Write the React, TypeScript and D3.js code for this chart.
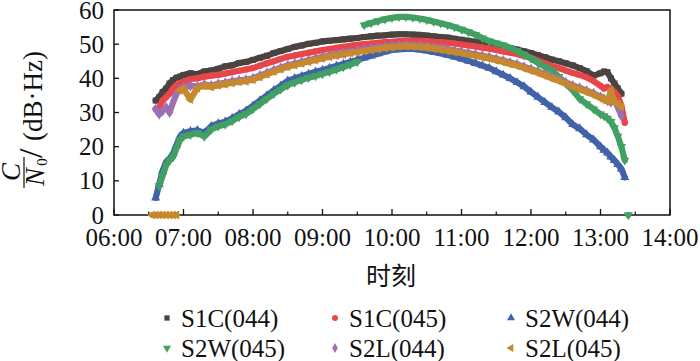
import React from 'react';
import * as d3 from 'd3';

// time of day in decimal hours (06:33 .. 13:24)
const times = [
  6.55, 6.6, 6.65, 6.7, 6.75, 6.8, 6.85, 6.9, 6.95, 7.0,
  7.1, 7.2, 7.3, 7.4, 7.5, 7.6, 7.7, 7.8, 7.9, 8.0,
  8.1, 8.2, 8.3, 8.4, 8.5, 8.6, 8.7, 8.8, 8.9, 9.0,
  9.1, 9.2, 9.3, 9.4, 9.5, 9.6, 9.7, 9.8, 9.9, 10.0,
  10.1, 10.2, 10.3, 10.4, 10.5, 10.6, 10.7, 10.8, 10.9, 11.0,
  11.1, 11.2, 11.3, 11.4, 11.5, 11.6, 11.7, 11.8, 11.9, 12.0,
  12.1, 12.2, 12.3, 12.4, 12.5, 12.6, 12.7, 12.8, 12.9,
  13.0, 13.05, 13.1, 13.15, 13.2, 13.25, 13.3, 13.35, 13.4,
];

// C/N0 in dB-Hz
const s1c044 = [
  null, 33.5, 34.5, 36, 37, 38.5, 39.5, 40.2, 40.5, 41,
  41.5, 41.2, 42, 42.3, 42.8, 43.5, 43.8, 44.5, 44.8, 45.4,
  46, 46.6, 47.4, 48, 48.6, 49.2, 49.6, 50.1, 50.4, 50.8,
  51, 51.2, 51.4, 51.6, 51.8, 52.1, 52.3, 52.5, 52.6, 52.8,
  52.9, 52.9, 52.8, 52.7, 52.5, 52.3, 52.1, 51.9, 51.6, 51.3,
  51, 50.7, 50.4, 50, 49.6, 49.2, 48.8, 48.4, 47.9, 47.4,
  46.8, 46.2, 45.5, 45, 44.4, 43.8, 43, 42.1, 40.8,
  41.5, 42, 41.8, 40, 38.5, 37, 35.5, null, null,
];
const s1c045 = [
  null, 31, 31.5, 33.5, 34.5, 35.5, 37, 38, 38.5, 39,
  39.8, 40, 40.5, 40.8, 41, 41.4, 41.8, 42.2, 42.6, 43,
  43.7, 44.4, 45, 45.7, 46.3, 46.7, 47.1, 47.5, 47.9, 48.3,
  48.6, 48.9, 49.2, 49.5, 49.8, 50, 50.2, 50.4, 50.6, 50.7,
  50.9, 51, 51, 51, 50.9, 50.7, 50.6, 50.4, 50.2, 49.9,
  49.6, 49.3, 49, 48.7, 48.3, 47.9, 47.5, 47.1, 46.5, 46,
  45.2, 44.4, 43.6, 43, 42.3, 41.6, 41, 40.3, 39.2,
  37.8, 37, 37.5, 36.8, 36, 34.8, 32, 27, null,
];
const s2w044 = [
  null, 5, 9, 13, 15.5, 16.5, 18, 20.5, 23, 24,
  24.5, 24.8, 24, 26, 26.8, 27.3, 28.3, 29.5, 30.5, 32,
  33.5, 35, 36.5, 37.8, 39.3, 40, 40.6, 41.3, 41.9, 42.4,
  43, 43.6, 44.2, 44.8, 45.4, 46, 46.6, 47.2, 47.8, 48.3,
  48.5, 48.6, 48.6, 48.4, 48.1, 47.7, 47.3, 46.8, 46.3, 45.7,
  45.1, 44.4, 43.7, 43, 42, 41, 40, 38.8, 37.6, 36,
  34.5, 33, 31.5, 30.2, 28.5, 26.5, 25.3, 23.5, 22,
  20, 19, 18.2, 17, 16, 14.8, 13.5, 11, null,
];
const s2w045 = [
  null, null, 8.5, 11.5, 14.5, 16, 17, 19.5, 22, 23,
  23.5, 24, 23, 25, 26, 26.5, 27.5, 28.7, 29.6, 31,
  32.5, 34, 35.5, 36.8, 38, 38.8, 39.5, 40.2, 40.7, 41.3,
  41.9, 42.6, 43.3, 44, 44.8, 55.6, 56.2, 56.8, 57.3, 57.7,
  58, 58, 57.8, 57.5, 57.1, 56.6, 56.1, 55.6, 55, 54.3,
  53.6, 52.8, 51.8, 50.9, 50.3, 49.7, 49, 48, 47, 45.8,
  44.5, 43.4, 42.3, 40.5, 38.5, 36.5, 34, 32.5, 31,
  29.5, 29, 28.3, 27.3, 25.5, 23, 20, 16, 0,
];
const s2l044 = [
  null, 31, 29.5, 30.5, 31.5, 30, 33, 35.5, 36.8, 37.3,
  37.8, 37.6, 38.2, 37.9, 38.4, 38.7, 39.1, 39.4, 39.6, 40,
  40.8, 41.6, 42.4, 43.1, 43.8, 44.3, 44.8, 45.3, 45.8, 46.3,
  46.7, 47.1, 47.4, 47.8, 48.1, 48.4, 48.7, 49, 49.3, 49.5,
  49.7, 49.8, 49.7, 49.6, 49.4, 49.1, 48.8, 48.5, 48.1, 47.8,
  47.4, 47, 46.6, 46.2, 45.7, 45.2, 44.6, 44.1, 43.4, 42.7,
  42, 41.2, 40.4, 39.7, 38.8, 37.9, 37.2, 36.4, 35.6,
  34.6, 34, 33.5, 33, 33.5, 31.5, 29, null, null,
];
const s2l045 = [
  0, 0, 0, 0, 0, 0, 0, 0, 36.5, 37,
  33.8, 37.2, 37.8, 37.5, 38, 38.3, 38.7, 39, 39.2, 39.6,
  40.4, 41.2, 42, 42.7, 43.4, 43.9, 44.4, 44.9, 45.4, 45.9,
  46.3, 46.7, 47, 47.4, 47.7, 48, 48.3, 48.6, 48.9, 49.1,
  49.3, 49.4, 49.3, 49.2, 49, 48.7, 48.4, 48.1, 47.7, 47.4,
  47, 46.6, 46.2, 45.8, 45.3, 44.8, 44.2, 43.7, 43, 42.3,
  41.6, 40.8, 40, 39.3, 38.4, 37.5, 36.8, 36, 35.2,
  34.2, 33.7, 33.2, 36.5, 33, 32.5, 31.6, null, null,
];

const seriesNames = ['S1C(044)', 'S1C(045)', 'S2W(044)', 'S2W(045)', 'S2L(044)', 'S2L(045)'];
const seriesValues = [s1c044, s1c045, s2w044, s2w045, s2l044, s2l045];
const seriesColors = ['#4b4340', '#e8464a', '#4262aa', '#42a062', '#9c70b4', '#c6892e'];
const xTickLabels = ['06:00', '07:00', '08:00', '09:00', '10:00', '11:00', '12:00', '13:00', '14:00'];
const yTicks = [0, 10, 20, 30, 40, 50, 60];

const SERIF = "Liberation Serif";
const txt = { fontFamily: SERIF };

// symbol + rotation for each series marker
const markers: [d3.SymbolType, number][] = [
  [d3.symbolSquare, 0],
  [d3.symbolCircle, 0],
  [d3.symbolTriangle, 0],
  [d3.symbolTriangle, 180],
  [d3.symbolDiamond, 0],
  [d3.symbolTriangle, -90],
];

function splitSegments(vals: (number | null)[]) {
  const segs: [number, number][][] = [];
  let cur: [number, number][] = [];
  vals.forEach((v, i) => {
    if (v == null) {
      if (cur.length) segs.push(cur);
      cur = [];
      return;
    }
    const prev = cur[cur.length - 1];
    if (prev && Math.abs(prev[1] - v) > 8) {
      segs.push(cur);
      cur = [];
    }
    cur.push([times[i], v]);
  });
  if (cur.length) segs.push(cur);
  return segs;
}

export default function App() {
  const left = 114, right = 670, top = 10, bottom = 215;
  const x = d3.scaleTime()
    .domain([new Date(2020, 0, 1, 6), new Date(2020, 0, 1, 14)])
    .range([left, right]);
  const xh = (h: number) => x(new Date(2020, 0, 1, 0, Math.round(h * 60)));
  const y = d3.scaleLinear().domain([0, 60]).range([bottom, top]);
  const line = d3.line<[number, number]>().x(d => xh(d[0])).y(d => y(d[1]));
  const hourTicks = x.ticks(d3.timeHour.every(1));
  const halfTicks = x.ticks(d3.timeMinute.every(30)).filter(d => d.getMinutes() === 30);

  const legendCols = [167, 335, 511];
  const legendRows = [318, 348];

  return (
    <svg width={700} height={361} style={{ position: 'absolute', left: 0, top: 0, background: '#fff' }}>
      {/* frame */}
      <rect x={left} y={top} width={right - left} height={bottom - top} fill="none" stroke="#111" strokeWidth={1.5} />
      {hourTicks.map((t, i) => (
        <g key={'xt' + i}>
          <line x1={x(t)} x2={x(t)} y1={bottom} y2={bottom - 6} stroke="#111" strokeWidth={1.3} />
          <text x={x(t)} y={246} textAnchor="middle" fontSize={25} fill="#111" style={txt}>{xTickLabels[i]}</text>
        </g>
      ))}
      {halfTicks.map((t, i) => (
        <line key={'xm' + i} x1={x(t)} x2={x(t)} y1={bottom} y2={bottom - 3.5} stroke="#111" strokeWidth={1.2} />
      ))}
      {yTicks.map(v => (
        <g key={'yt' + v}>
          <line x1={left} x2={left + 5} y1={y(v)} y2={y(v)} stroke="#111" strokeWidth={1.3} />
          <text x={104} y={y(v) + 8.5} textAnchor="end" fontSize={25} fill="#111" style={txt}>{v}</text>
        </g>
      ))}

      {/* series */}
      {seriesValues.map((vals, si) => {
        const [shape, rot] = markers[si];
        const sym = d3.symbol().type(shape).size(si === 1 ? 30 : 36)();
        return (
          <g key={'s' + si}>
            {splitSegments(vals).map((seg, k) => (
              <path key={k} d={line(seg) || ''} fill="none" stroke={seriesColors[si]} strokeWidth={6.2}
                strokeLinejoin="round" strokeLinecap="round" />
            ))}
            {vals.map((v, i) => v == null ? null : (
              <path key={'p' + i} d={sym || ''} fill={seriesColors[si]}
                transform={`translate(${xh(times[i])},${y(v)}) rotate(${rot})`} />
            ))}
          </g>
        );
      })}

      {/* y axis title: C/N0 /(dB·Hz) */}
      <g transform="rotate(-90)" fill="#111" style={txt}>
        <text x={-172} y={20} textAnchor="middle" fontSize={27} fontStyle="italic">C</text>
        <line x1={-188} x2={-157} y1={24} y2={24} stroke="#111" strokeWidth={1.2} />
        <text x={-177} y={44} textAnchor="middle" fontSize={27} fontStyle="italic">N</text>
        <text x={-162} y={47} textAnchor="middle" fontSize={15}>0</text>
        <text x={-158} y={42} fontSize={34}>/</text>
        <text x={-141} y={42} fontSize={27}>(dB·Hz)</text>
      </g>

      {/* x axis title */}
      <text x={391} y={285} textAnchor="middle" fontSize={25} fill="#111"
        style={{ fontFamily: "Noto Sans CJK SC" }}>时刻</text>

      {/* legend */}
      {seriesNames.map((name, i) => {
        const cx = legendCols[i % 3];
        const cy = legendRows[Math.floor(i / 3)];
        const [shape, rot] = markers[i];
        const sym = d3.symbol().type(shape).size(28)();
        return (
          <g key={'lg' + i}>
            <path d={sym || ''} fill={seriesColors[i]} transform={`translate(${cx},${cy}) rotate(${rot})`} />
            <text x={cx + 14} y={cy + 9} fontSize={25} fill="#111" style={txt}>{name}</text>
          </g>
        );
      })}
    </svg>
  );
}
